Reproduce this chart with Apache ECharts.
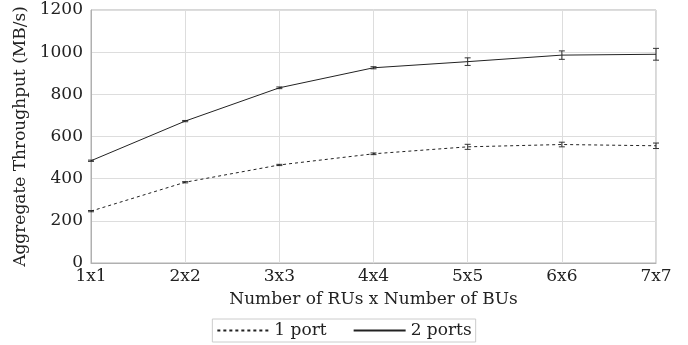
<!DOCTYPE html>
<html>
<head>
<meta charset="utf-8">
<script src="https://cdn.jsdelivr.net/npm/echarts@6/dist/echarts.min.js"></script>
<style>
  html, body { margin: 0; padding: 0; background: #fff; }
  #chart { width: 688px; height: 345px; }
</style>
</head>
<body>
<div id="chart"></div>
<script>
// 数据
var categories = ['1x1', '2x2', '3x3', '4x4', '5x5', '6x6', '7x7'];
var onePort = [246, 383, 465, 518, 551, 562, 556];
var onePortErr = [3, 3, 3, 4, 12, 11, 13];
var twoPorts = [485, 673, 831, 926, 955, 986, 990];
var twoPortsErr = [3, 3, 4, 5, 18, 20, 28];
var yTicks = [0, 200, 400, 600, 800, 1000, 1200];

var fontFamily = 'DejaVu Serif';
var fontSize = 17;

// 误差棒
function errorData(values, errs) {
    return values.map(function (v, i) {
        return [i, v - errs[i], v + errs[i]];
    });
}

function renderError(params, api) {
    var x = api.value(0);
    var lo = api.coord([x, api.value(1)]);
    var hi = api.coord([x, api.value(2)]);
    var w = 3;
    var style = { stroke: '#333', lineWidth: 1 };
    return {
        type: 'group',
        children: [
            { type: 'line', shape: { x1: lo[0], y1: lo[1], x2: hi[0], y2: hi[1] }, style: style },
            { type: 'line', shape: { x1: lo[0] - w, y1: lo[1], x2: lo[0] + w, y2: lo[1] }, style: style },
            { type: 'line', shape: { x1: hi[0] - w, y1: hi[1], x2: hi[0] + w, y2: hi[1] }, style: style }
        ]
    };
}

var chart = echarts.init(document.getElementById('chart'));

var option = {
    animation: false,
    textStyle: { fontFamily: fontFamily },
    grid: {
        left: 91, right: 32, top: 10, bottom: 82,
        show: true, borderColor: '#b0b0b0', borderWidth: 1
    },
    legend: {
        bottom: 3,
        left: 'center',
        data: ['1 port', '2 ports'],
        itemWidth: 52,
        itemHeight: 12,
        itemGap: 26,
        padding: [3, 4, 3, 4],
        borderColor: '#cccccc',
        borderWidth: 1,
        borderRadius: 0,
        itemStyle: { opacity: 0 },
        textStyle: { fontFamily: fontFamily, fontSize: fontSize, color: '#222' }
    },
    xAxis: {
        type: 'category',
        data: categories,
        boundaryGap: false,
        name: 'Number of RUs x Number of BUs',
        nameLocation: 'middle',
        nameGap: 28,
        nameTextStyle: { fontFamily: fontFamily, fontSize: fontSize, color: '#222' },
        axisLine: { lineStyle: { color: '#b0b0b0' } },
        axisTick: { show: false },
        axisLabel: { fontFamily: fontFamily, fontSize: fontSize, color: '#222', margin: 5 },
        splitLine: { show: true, lineStyle: { color: '#dddddd' } }
    },
    yAxis: {
        type: 'value',
        min: 0,
        max: 1200,
        interval: 200,
        name: 'Aggregate Throughput (MB/s)',
        nameLocation: 'middle',
        nameGap: 62,
        nameTextStyle: { fontFamily: fontFamily, fontSize: fontSize, color: '#222' },
        axisLine: { show: true, lineStyle: { color: '#b0b0b0' } },
        axisTick: { show: false },
        axisLabel: {
            fontFamily: fontFamily, fontSize: fontSize, color: '#222', margin: 8,
            formatter: function (v) { return yTicks.indexOf(v) >= 0 ? String(v) : ''; }
        },
        splitLine: { show: true, lineStyle: { color: '#dddddd' } }
    },
    series: [
        {
            name: '1 port',
            type: 'line',
            data: onePort,
            symbol: 'none',
            lineStyle: { color: '#222', width: 1, type: [3, 3] },
            itemStyle: { color: '#222' }
        },
        {
            name: '2 ports',
            type: 'line',
            data: twoPorts,
            symbol: 'none',
            lineStyle: { color: '#222', width: 1, type: 'solid' },
            itemStyle: { color: '#222' }
        },
        {
            name: '1 port err',
            type: 'custom',
            renderItem: renderError,
            data: errorData(onePort, onePortErr),
            encode: { x: 0, y: [1, 2] },
            z: 3
        },
        {
            name: '2 ports err',
            type: 'custom',
            renderItem: renderError,
            data: errorData(twoPorts, twoPortsErr),
            encode: { x: 0, y: [1, 2] },
            z: 3
        }
    ]
};

chart.setOption(option);
</script>
</body>
</html>
